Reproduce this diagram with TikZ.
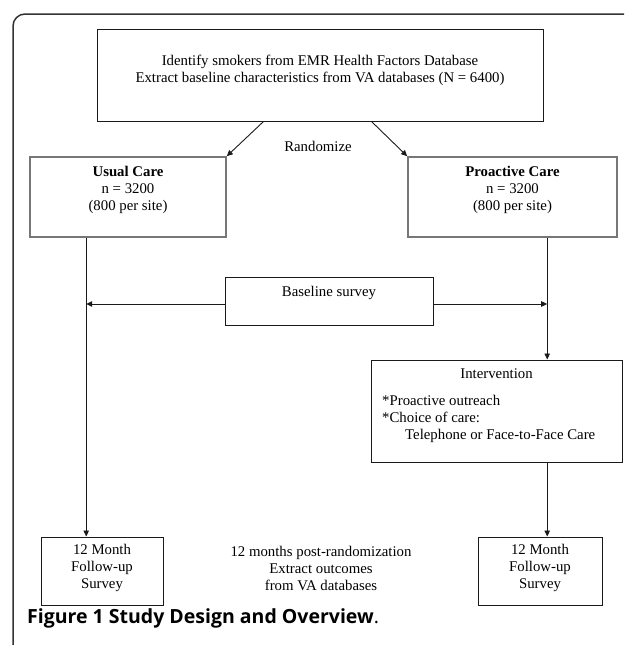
\documentclass[tikz,border=0pt]{standalone}
\usepackage{fontspec}
\setmainfont{Liberation Serif}
\newfontfamily\capfont{Open Sans}
\usepackage{tikz}
\usetikzlibrary{arrows.meta, positioning, calc}
\definecolor{boxline}{HTML}{1A1A1A}
\definecolor{careline}{HTML}{777777}
\definecolor{frameline}{HTML}{333333}
\tikzset{
  box/.style    = {rectangle, draw=boxline, line width=1pt, align=center,
                   inner sep=0pt, anchor=base},
  carebox/.style= {box, draw=careline, line width=1.6pt},
  flow/.style   = {-{Triangle[length=6pt, width=5.5pt]}, line width=0.9pt, draw=boxline},
  lbl/.style    = {align=center, inner sep=0pt, anchor=base},
}

\begin{document}
\begin{tikzpicture}[
					x=1pt, y=-1pt,
					font=\fontsize{14.8pt}{17pt}\selectfont
					]
					\useasboundingbox (0,0) rectangle (624,645);
					\clip (0,0) rectangle (624,645);
					\draw[draw=frameline, line width=1.5pt, rounded corners=12pt]
					(13,660) -- (13,14) -- (640,14);

					\node[box, minimum width=446pt, text height=53pt, text depth=39pt]
					(identify) at (320,82)
					{Identify smokers from EMR Health Factors Database\\
						Extract baseline characteristics from VA databases (N = 6400)};
					\node[lbl] (randomize) at (318,151) {Randomize};

					\node[carebox, minimum width=196pt, text height=53pt, text depth=27pt]
					(usual) at (128,210)
					{\textbf{Usual Care}\\n = 3200\\(800 per site)};
					\node[carebox, minimum width=209pt, text height=53pt, text depth=27pt]
					(proactive) at (512.5,210)
					{\textbf{Proactive Care}\\n = 3200\\(800 per site)};

					\node[box, minimum width=208pt, text height=19pt, text depth=29pt]
					(baseline) at (329,296) {Baseline survey};

					\node[box, minimum width=251pt, text height=18pt, text depth=84pt]
					(intervention) at (496.5,378) {Intervention};
					\node[lbl, align=left, anchor=base west] (choices) at (382,439)
					{*Proactive outreach\\*Choice of care:\\
						\hspace*{23pt}Telephone or Face-to-Face Care};

					\node[box, minimum width=122pt, text height=51pt, text depth=17pt]
					(followleft) at (102,588) {12 Month\\Follow-up\\Survey};
					\node[box, minimum width=124pt, text height=51pt, text depth=17pt]
					(followright) at (540,588) {12 Month\\Follow-up\\Survey};
					\node[lbl] (outcomes) at (321,590)
					{12 months post-randomization\\Extract outcomes\\from VA databases};

					\coordinate (lefttrunk) at ([xshift=57pt]usual.south west);
					\coordinate (righttrunk) at ([xshift=140pt]proactive.south west);

					\draw[flow] ([xshift=167pt]identify.south west) -- (usual.north east);
					\draw[flow] ([xshift=-172pt]identify.south east) -- (proactive.north west);
					\draw[flow] (lefttrunk) -- (lefttrunk |- followleft.north);
					\draw[flow] (righttrunk) -- (righttrunk |- intervention.north);
					\draw[flow] ([yshift=-3pt]baseline.west) -- ([yshift=-3pt]baseline.west -| lefttrunk);
					\draw[flow] ([yshift=-3pt]baseline.east) -- ([yshift=-3pt]baseline.east -| righttrunk);
					\draw[flow] (righttrunk |- intervention.south) -- (righttrunk |- followright.north);

					\node[anchor=base west, inner sep=0pt, font=\capfont\fontsize{19.5pt}{21pt}\selectfont]
					(caption) at (27,623)
					{\textbf{Figure 1 Study Design and Overview}.};
				\end{tikzpicture}
\end{document}
